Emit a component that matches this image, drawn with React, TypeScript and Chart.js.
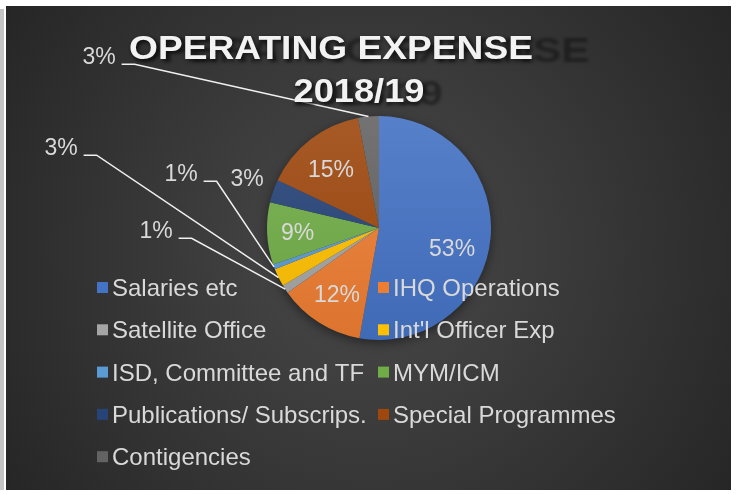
import React, { useEffect, useRef } from "react";
import { Chart, registerables } from "chart.js";

Chart.register(...registerables);

// ---- data ----
const categories = [
  "Salaries etc",
  "IHQ Operations",
  "Satellite Office",
  "Int'l Officer Exp",
  "ISD, Committee and TF",
  "MYM/ICM",
  "Publications/ Subscrips.",
  "Special Programmes",
  "Contigencies",
];
const shares = [52.8, 12.4, 1.2, 2.6, 0.7, 9.0, 3.3, 15.0, 3.0];
const titleLines = ["OPERATING EXPENSE", "2018/19"];

// ---- styles ----
const sliceColors = [
  "#4472C4",
  "#ED7D31",
  "#A5A5A5",
  "#FFC000",
  "#5B9BD5",
  "#70AD47",
  "#264478",
  "#9E480E",
  "#636363",
];
const FONT = "'Liberation Sans', Arial, sans-serif";
const TEXT_COLOR = "#d9d9d9";
const LABEL_SIZE = 23;
const LEGEND_SIZE = 24;

// label placement (relative to pie centre for outside labels)
type Place =
  | { mode: "in"; dx?: number; dy?: number }
  | { mode: "out"; dx: number; dy: number; leader: boolean };
const labelPlacement: Place[] = [
  { mode: "in", dx: -5, dy: 13 },
  { mode: "in" },
  { mode: "out", dx: -223, dy: 2, leader: true },
  { mode: "out", dx: -318, dy: -81, leader: true },
  { mode: "out", dx: -198, dy: -55, leader: true },
  { mode: "in", dx: -3, dy: 0 },
  { mode: "out", dx: -132, dy: -50, leader: false },
  { mode: "in", dx: 0, dy: 3 },
  { mode: "out", dx: -280, dy: -172, leader: true },
];

function hexToRgb(h: string) {
  const n = parseInt(h.slice(1), 16);
  return [(n >> 16) & 255, (n >> 8) & 255, n & 255];
}
function mix(h: string, target: number, t: number) {
  const [r, g, b] = hexToRgb(h);
  const f = (c: number) => Math.round(c + (target - c) * t);
  return `rgb(${f(r)},${f(g)},${f(b)})`;
}

const bgPlugin = {
  id: "bgPanel",
  beforeDraw(chart: any) {
    const ctx = chart.ctx as CanvasRenderingContext2D;
    const W = chart.width,
      H = chart.height;
    ctx.save();
    ctx.fillStyle = "#ffffff";
    ctx.fillRect(0, 0, W, H);
    ctx.fillStyle = "#c4c4c4";
    ctx.fillRect(0, 9, 4, 481);
    const g = ctx.createRadialGradient(370, 250, 0, 370, 250, 460);
    g.addColorStop(0, "#4a4a4a");
    g.addColorStop(1, "#242424");
    ctx.fillStyle = g;
    ctx.fillRect(6, 6, 725, 484);
    ctx.restore();
  },
};

function drawTitleLine(
  ctx: CanvasRenderingContext2D,
  text: string,
  cx: number,
  baseline: number,
  targetW: number
) {
  ctx.save();
  ctx.font = `bold 34px ${FONT}`;
  const w = ctx.measureText(text).width;
  const sx = targetW / w;
  const left = cx - targetW / 2;
  // ghost reflection
  ctx.save();
  ctx.filter = "blur(1.5px)";
  ctx.fillStyle = "rgba(0,0,0,0.38)";
  ctx.translate(left, baseline + 3);
  ctx.scale(sx * 1.14, 1.04);
  ctx.textAlign = "left";
  ctx.fillText(text, 0, 0);
  ctx.restore();
  // main text
  ctx.save();
  ctx.shadowColor = "rgba(0,0,0,0.6)";
  ctx.shadowBlur = 4;
  ctx.shadowOffsetX = 2;
  ctx.shadowOffsetY = 2;
  ctx.fillStyle = "#f2f2f2";
  ctx.translate(left, baseline);
  ctx.scale(sx, 1);
  ctx.textAlign = "left";
  ctx.fillText(text, 0, 0);
  ctx.restore();
  ctx.restore();
}

const shadowPlugin = {
  id: "pieShadow",
  beforeDatasetsDraw(chart: any) {
    const arc = chart.getDatasetMeta(0).data[0];
    if (!arc) return;
    const p = arc.getProps(["x", "y", "outerRadius"], true);
    const ctx = chart.ctx as CanvasRenderingContext2D;
    ctx.save();
    ctx.shadowColor = "rgba(0,0,0,0.55)";
    ctx.shadowBlur = 12;
    ctx.shadowOffsetY = 3;
    ctx.fillStyle = "#333";
    ctx.beginPath();
    ctx.arc(p.x, p.y, p.outerRadius - 1, 0, Math.PI * 2);
    ctx.fill();
    ctx.restore();
  },
};

const labelsPlugin = {
  id: "pctLabels",
  afterDatasetsDraw(chart: any) {
    const ctx = chart.ctx as CanvasRenderingContext2D;
    const data: number[] = chart.data.datasets[0].data;
    const total = data.reduce((a, b) => a + b, 0);
    const capH = LABEL_SIZE * 0.716;
    ctx.save();
    ctx.font = `${LABEL_SIZE}px ${FONT}`;
    ctx.fillStyle = TEXT_COLOR;
    ctx.textBaseline = "alphabetic";
    ctx.textAlign = "center";
    chart.getDatasetMeta(0).data.forEach((arc: any, i: number) => {
      const p = arc.getProps(["x", "y", "startAngle", "endAngle", "outerRadius"], true);
      const mid = (p.startAngle + p.endAngle) / 2;
      const txt = Math.round((data[i] / total) * 100) + "%";
      const place = labelPlacement[i];
      if (place.mode === "in") {
        const r = p.outerRadius * 0.7;
        const tx = p.x + Math.cos(mid) * r + (place.dx || 0);
        const ty = p.y + Math.sin(mid) * r + (place.dy || 0);
        ctx.fillText(txt, tx, ty + capH / 2);
      } else {
        const tx = p.x + place.dx;
        const ty = p.y + place.dy;
        ctx.fillText(txt, tx, ty + capH / 2);
        if (place.leader) {
          const w = ctx.measureText(txt).width;
          const sx = tx + w / 2 + 6;
          const sy = ty + capH / 2;
          const ex = p.x + Math.cos(mid) * p.outerRadius;
          const ey = p.y + Math.sin(mid) * p.outerRadius;
          ctx.save();
          ctx.strokeStyle = "#f0f0f0";
          ctx.lineWidth = 1.5;
          ctx.beginPath();
          ctx.moveTo(sx, sy);
          ctx.lineTo(sx + 13, sy);
          ctx.lineTo(ex, ey);
          ctx.stroke();
          ctx.restore();
        }
      }
    });
    ctx.restore();
  },
};

const overlayPlugin = {
  id: "overlay",
  afterDraw(chart: any) {
    const ctx = chart.ctx as CanvasRenderingContext2D;
    // title
    drawTitleLine(ctx, titleLines[0], 331, 59, 404);
    drawTitleLine(ctx, titleLines[1], 359, 102, 131);
    // legend
    const labels: string[] = chart.data.labels;
    const colX = [97, 378];
    const rowY0 = 287.5;
    const rowStep = 42.3;
    const capH = LEGEND_SIZE * 0.716;
    ctx.save();
    ctx.font = `${LEGEND_SIZE}px ${FONT}`;
    ctx.textAlign = "left";
    ctx.textBaseline = "alphabetic";
    labels.forEach((lab, i) => {
      const col = i % 2;
      const row = Math.floor(i / 2);
      const x = colX[col];
      const y = rowY0 + row * rowStep;
      ctx.fillStyle = sliceColors[i];
      ctx.fillRect(x, y - 5.5, 11, 11);
      ctx.fillStyle = TEXT_COLOR;
      ctx.fillText(lab, x + 15, y + capH / 2);
    });
    ctx.restore();
  },
};

export default function App() {
  const ref = useRef<HTMLCanvasElement | null>(null);
  useEffect(() => {
    if (!ref.current) return;
    const chart = new Chart(ref.current, {
      type: "pie",
      data: {
        labels: categories,
        datasets: [
          {
            data: shares,
            borderWidth: 0,
            backgroundColor: (c: any) => {
              const base = sliceColors[c.dataIndex % sliceColors.length];
              const area = c.chart.chartArea;
              if (!area) return base;
              const g = c.chart.ctx.createLinearGradient(0, area.top, 0, area.bottom);
              g.addColorStop(0, mix(base, 255, 0.1));
              g.addColorStop(1, mix(base, 0, 0.07));
              return g;
            },
          },
        ],
      },
      options: {
        responsive: false,
        animation: false,
        layout: { padding: { left: 267, top: 116, right: 249, bottom: 155 } },
        plugins: {
          legend: { display: false },
          title: { display: false },
          tooltip: { enabled: false },
        },
      },
      plugins: [bgPlugin, shadowPlugin, labelsPlugin, overlayPlugin],
    } as any);
    return () => chart.destroy();
  }, []);
  return (
    <div style={{ position: "fixed", left: 0, top: 0, width: 740, height: 495 }}>
      <canvas ref={ref} width={740} height={495} style={{ display: "block" }} />
    </div>
  );
}
